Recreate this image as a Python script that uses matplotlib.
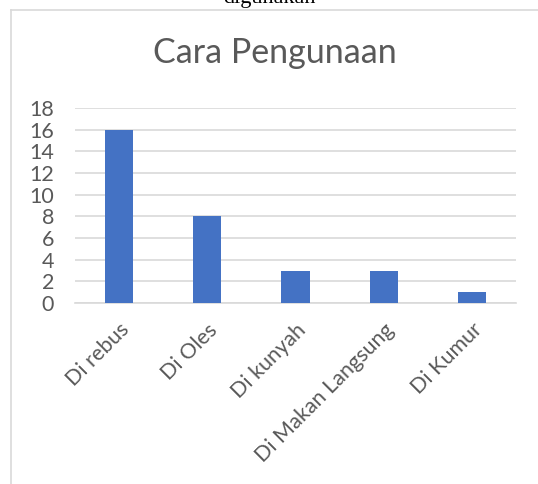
import matplotlib
matplotlib.use("Agg")
import matplotlib.pyplot as plt
from matplotlib.lines import Line2D

categories = ["Di rebus", "Di Oles", "Di kunyah", "Di Makan Langsung", "Di Kumur"]
values = [16, 8, 3, 3, 1]
yticks = [0, 2, 4, 6, 8, 10, 12, 14, 16, 18]
title = "Cara Pengunaan"
top_caption = "digunakan"

W, H = 538, 484
fig = plt.figure(figsize=(W / 100, H / 100), dpi=100)
fig.patch.set_facecolor("white")

# chart frame (left and top borders)
fig.add_artist(Line2D([11 / W, 11 / W], [0, 1 - 10 / H], color="#d9d9d9", lw=1.2))
fig.add_artist(Line2D([11 / W, 1], [1 - 10 / H, 1 - 10 / H], color="#d9d9d9", lw=1.2))

# partially cut caption at top
fig.text(270 / W, 1 - 2.5 / H, top_caption, ha="center", va="baseline",
         fontsize=16, family="Liberation Serif", color="black")

ax = fig.add_axes([75 / W, 1 - 303 / H, 441 / W, 195 / H])
x = range(len(categories))
ax.bar(x, values, width=0.32, color="#4472c4", zorder=3)
ax.set_xlim(-0.5, len(categories) - 0.5)
ax.set_ylim(0, 18)
ax.set_yticks(yticks)
ax.set_yticklabels([str(t) for t in yticks])
ax.set_xticks(list(x))
ax.set_xticklabels(categories, rotation=45, ha="right", rotation_mode="anchor",
                   fontsize=15.5, family="Lato", color="#595959")
for lab in ax.get_yticklabels():
    lab.set_fontsize(15.5)
    lab.set_family("Lato")
    lab.set_color("#595959")
ax.tick_params(axis="both", length=0)
ax.tick_params(axis="y", pad=15)
ax.tick_params(axis="x", pad=12)
ax.grid(axis="y", color="#d9d9d9", lw=1.2, zorder=0)
for s in ["left", "right", "top"]:
    ax.spines[s].set_visible(False)
ax.spines["bottom"].set_color("#d9d9d9")
ax.spines["bottom"].set_linewidth(1.2)

fig.text(275 / W, 1 - 63 / H, title, ha="center", va="baseline",
         fontsize=24.5, family="Lato", color="#595959")

fig.savefig("out.png", dpi=100)
